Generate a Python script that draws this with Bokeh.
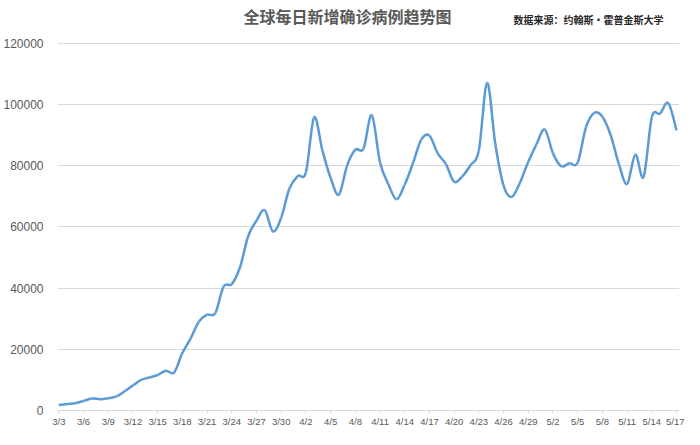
from bokeh.plotting import figure
from bokeh.models import ColumnDataSource, FixedTicker, NumeralTickFormatter, Label, Range1d
from bokeh.embed import file_html
from bokeh.resources import INLINE

title_text = "全球每日新增确诊病例趋势图"
source_text = "数据来源：约翰斯·霍普金斯大学"

tick_labels = ["3/3", "3/6", "3/9", "3/12", "3/15", "3/18", "3/21", "3/24", "3/27",
               "3/30", "4/2", "4/5", "4/8", "4/11", "4/14", "4/17", "4/20", "4/23",
               "4/26", "4/29", "5/2", "5/5", "5/8", "5/11", "5/14", "5/17"]

daily_new_cases = [
    1800, 2100, 2400, 3100, 3900, 3700, 4000, 4600, 6300, 8200,
    10000, 10800, 11600, 13000, 12400, 18800, 23500, 29000, 31300, 31800,
    40500, 41300, 46800, 57000, 62000, 65400, 58500, 63000, 72500, 76600,
    77800, 95800, 85000, 76000, 70500, 80000, 85200, 85600, 96500, 81000,
    74000, 69000, 73800, 80800, 88500, 89800, 84000, 80500, 74700, 76500,
    80200, 85000, 107000, 87000, 73500, 69800, 74500, 81300, 87000, 91800,
    84000, 79800, 80800, 81000, 92500, 97200, 96000, 90000, 80500, 74000,
    83600, 76300, 95800, 97000, 100400, 91500,
]

y_ticks = [0, 20000, 40000, 60000, 80000, 100000, 120000]

n = len(daily_new_cases)
xs = list(range(n))
ys = daily_new_cases

# smooth line (Catmull-Rom converted to cubic Bezier segments)
x0, y0, x1, y1, cx0, cy0, cx1, cy1 = [], [], [], [], [], [], [], []
for i in range(n - 1):
    ip = max(i - 1, 0)
    inn = min(i + 2, n - 1)
    x0.append(xs[i]); y0.append(ys[i])
    x1.append(xs[i + 1]); y1.append(ys[i + 1])
    cx0.append(xs[i] + (xs[i + 1] - xs[ip]) / 6.0)
    cy0.append(ys[i] + (ys[i + 1] - ys[ip]) / 6.0)
    cx1.append(xs[i + 1] - (xs[inn] - xs[i]) / 6.0)
    cy1.append(ys[i + 1] - (ys[inn] - ys[i]) / 6.0)

src = ColumnDataSource(dict(x0=x0, y0=y0, x1=x1, y1=y1, cx0=cx0, cy0=cy0, cx1=cx1, cy1=cy1))

# frame spans from the canvas top (so texts above the grid sit inside it)
# down to the zero line; 120000 lies 43px below the top, zero at 413px.
frame_h = 413
y_top = y_ticks[-1] * frame_h / (frame_h - 43)

p = figure(width=684, height=429, output_backend="svg", toolbar_location=None,
           x_range=Range1d(-0.16, n - 1 + 0.36), y_range=Range1d(0, y_top),
           min_border_left=56, min_border_right=5, min_border_top=0, min_border_bottom=16)

p.bezier(x0="x0", y0="y0", x1="x1", y1="y1", cx0="cx0", cy0="cy0", cx1="cx1", cy1="cy1",
         source=src, line_color="#5b9bd5", line_width=2.5)

p.outline_line_color = None
p.background_fill_color = "white"
p.border_fill_color = "white"

p.xgrid.grid_line_color = None
p.ygrid.grid_line_color = "#d9d9d9"
p.ygrid.grid_line_width = 1

p.yaxis.ticker = FixedTicker(ticks=y_ticks)
p.yaxis.formatter = NumeralTickFormatter(format="0")
p.yaxis.axis_line_color = None
p.yaxis.major_tick_line_color = None
p.yaxis.minor_tick_line_color = None
p.yaxis.major_label_text_font = "Liberation Sans"
p.yaxis.major_label_text_font_size = "12px"
p.yaxis.major_label_text_color = "#595959"
p.yaxis.major_label_standoff = 8

tick_pos = list(range(0, n, 3))
p.xaxis.ticker = FixedTicker(ticks=tick_pos)
p.xaxis.major_label_overrides = {t: lab for t, lab in zip(tick_pos, tick_labels)}
p.xaxis.axis_line_color = "#d9d9d9"
p.xaxis.major_tick_line_color = "#d9d9d9"
p.xaxis.major_tick_in = 0
p.xaxis.major_tick_out = 3
p.xaxis.minor_tick_line_color = None
p.xaxis.major_label_text_font = "Liberation Sans"
p.xaxis.major_label_text_font_size = "9.5px"
p.xaxis.major_label_text_color = "#595959"
p.xaxis.major_label_standoff = 2

p.add_layout(Label(x=290, y=395, x_units="screen", y_units="screen", text=title_text,
                   text_align="center", text_baseline="middle",
                   text_font="Noto Sans CJK SC", text_font_style="bold",
                   text_font_size="16px", text_color="#595959"))
p.add_layout(Label(x=456, y=391, x_units="screen", y_units="screen", text=source_text,
                   text_align="left", text_baseline="middle",
                   text_font="Noto Sans CJK SC", text_font_style="bold",
                   text_font_size="10px", text_color="#262626"))

open("out.html", "w").write(file_html(p, INLINE))
